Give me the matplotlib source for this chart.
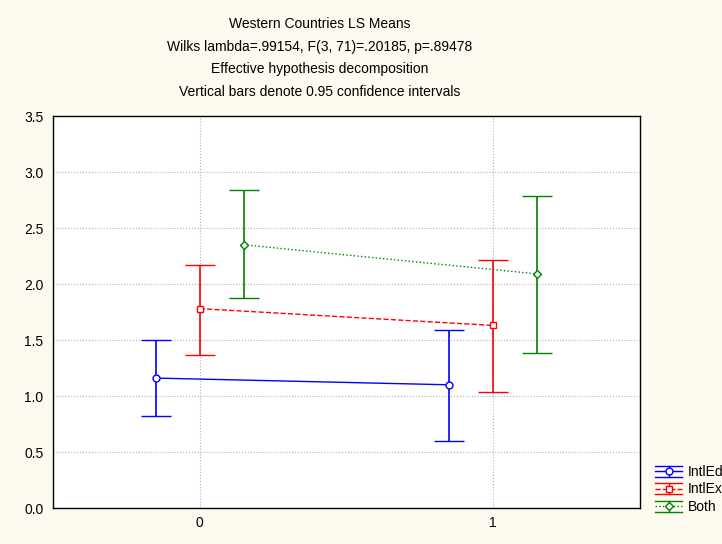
import numpy as np
import matplotlib.pyplot as plt
from matplotlib.lines import Line2D
from matplotlib.legend_handler import HandlerBase

plt.rcParams['font.family'] = ['Liberation Sans', 'DejaVu Sans']

# LS means and 95% confidence limits per group, at levels 0 and 1
levels = [0, 1]
groups = ["IntlEduc", "IntlExp", "Both"]
means = {
    "IntlEduc": [1.16, 1.10],
    "IntlExp": [1.78, 1.63],
    "Both": [2.35, 2.09],
}
lower = {
    "IntlEduc": [0.82, 0.60],
    "IntlExp": [1.37, 1.04],
    "Both": [1.875, 1.38],
}
upper = {
    "IntlEduc": [1.50, 1.59],
    "IntlExp": [2.17, 2.21],
    "Both": [2.84, 2.79],
}

styles = {
    "IntlEduc": dict(color="#0000FF", marker="o", ls="-", off=-0.15, ms=5),
    "IntlExp": dict(color="#FF0000", marker="s", ls="--", off=0.0, ms=5),
    "Both": dict(color="#008000", marker="D", ls=":", off=0.15, ms=4.5),
}


class ErrbarHandler(HandlerBase):
    # legend key: caps on top and bottom, whisker, styled line and marker
    def create_artists(self, legend, orig, xd, yd, width, height, fontsize, trans):
        x0, y0 = -xd, -yd
        xc, ym = x0 + width / 2, y0 + height / 2
        c = orig.get_color()
        arts = [
            Line2D([x0, x0 + width], [y0 + height] * 2, color=c, lw=1),
            Line2D([x0, x0 + width], [y0] * 2, color=c, lw=1),
            Line2D([xc, xc], [y0, y0 + height], color=c, lw=1),
            Line2D([x0, x0 + width], [ym, ym], color=c, lw=1, ls=orig.get_linestyle()),
            Line2D([xc], [ym], color=c, marker=orig.get_marker(), ms=orig.get_markersize(),
                   mfc="white", mec=c, mew=1, ls="none"),
        ]
        for a in arts:
            a.set_transform(trans)
        return arts


fig = plt.figure(figsize=(7.22, 5.44), dpi=100, facecolor="#FDFAF0")
ax = fig.add_axes([53 / 722, 1 - 508 / 544, 587 / 722, 392 / 544])
ax.set_facecolor("white")

proxies = []
for g in groups:
    st = styles[g]
    x = np.array(levels) + st["off"]
    m = np.array(means[g])
    err = [m - np.array(lower[g]), np.array(upper[g]) - m]
    ax.errorbar(x, m, yerr=err, color=st["color"], ls=st["ls"], lw=1,
                marker=st["marker"], ms=st["ms"], mfc="white", mec=st["color"],
                mew=1, capsize=10.8, capthick=1, elinewidth=1.2, zorder=3)
    proxies.append(Line2D([], [], color=st["color"], ls=st["ls"],
                          marker=st["marker"], ms=st["ms"]))

ax.set_xlim(-0.5, 1.5)
ax.set_ylim(0, 3.5)
ax.set_xticks(levels)
ax.set_yticks(np.arange(0, 3.51, 0.5))
ax.yaxis.set_major_formatter(plt.FormatStrFormatter("%.1f"))
ax.tick_params(length=0, labelsize=10)
ax.tick_params(axis="y", pad=7)
ax.tick_params(axis="x", pad=6)
ax.grid(True, color="#B0B0B0", ls=":", lw=0.8)
for sp in ax.spines.values():
    sp.set_color("black")
    sp.set_linewidth(1)

title_lines = ["Western Countries LS Means",
               "Wilks lambda=.99154, F(3, 71)=.20185, p=.89478",
               "Effective hypothesis decomposition",
               "Vertical bars denote 0.95 confidence intervals"]
for i, line in enumerate(title_lines):
    fig.text(320 / 722, 1 - (24 + 22.7 * i) / 544, line, ha="center", va="center",
             fontsize=10)

fig.legend(proxies, groups, loc="upper left", bbox_to_anchor=(655 / 722, 1 - 465 / 544),
           handler_map={Line2D: ErrbarHandler()},
           frameon=False, fontsize=10, handlelength=1.95, handleheight=0.85,
           handletextpad=0.4, labelspacing=0.25, borderaxespad=0, borderpad=0)

fig.savefig("out.png", dpi=100, facecolor=fig.get_facecolor())
